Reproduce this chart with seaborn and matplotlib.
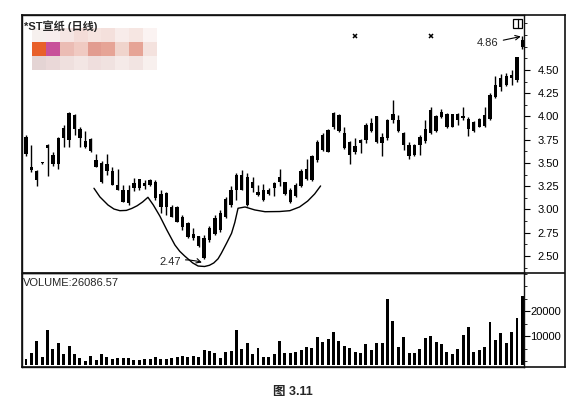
""" Daily candlestick chart with volume panel (cup-and-handle, fig 3.11) """

import matplotlib
matplotlib.use('Agg')
import matplotlib.pyplot as plt
from matplotlib.patches import Rectangle
from matplotlib.lines import Line2D
from matplotlib.ticker import MultipleLocator, FormatStrFormatter
import numpy as np
import pandas as pd
import seaborn as sns

TITLE = '*ST宣纸 (日线)'
CAPTION = '图 3.11'
VOLUME_LABEL = 'VOLUME:26086.57'

OPEN = [3.78, 3.46, 3.41, 3.50, 3.66, 3.59, 3.49, 3.77, 3.75, 4.02,
        3.87, 3.74, 3.76, 3.53, 3.50, 3.41, 3.41, 3.26, 3.21, 3.07,
        3.23, 3.23, 3.29, 3.26, 3.30, 3.17, 3.03, 3.03, 3.03, 2.92,
        2.85, 2.69, 2.71, 2.69, 2.67, 2.74, 2.78, 2.92, 3.05, 3.21,
        3.37, 3.35, 3.23, 3.19, 3.10, 3.17, 3.23, 3.30, 3.30, 3.21,
        3.14, 3.25, 3.33, 3.32, 3.53, 3.64, 3.85, 3.89, 4.02, 3.82,
        3.73, 3.62, 3.71, 3.75, 3.93, 3.73, 3.78, 3.77, 3.96, 3.96,
        3.82, 3.69, 3.59, 3.69, 3.74, 3.82, 4.00, 3.99, 4.03, 3.89,
        3.96, 4.00, 3.97, 3.84, 3.89, 3.90, 3.97, 4.21, 4.32, 4.34,
        4.41, 4.39, 4.75]
CLOSE = [3.60, 3.42, 3.32, 3.51, 3.69, 3.49, 3.77, 3.88, 4.04, 3.86,
         3.77, 3.67, 3.63, 3.46, 3.30, 3.49, 3.26, 3.21, 3.08, 3.21,
         3.28, 3.33, 3.25, 3.32, 3.12, 3.03, 3.18, 2.92, 2.87, 2.81,
         2.70, 2.74, 2.61, 2.48, 2.80, 2.91, 2.96, 3.11, 3.21, 3.37,
         3.21, 3.05, 3.30, 3.16, 3.21, 3.21, 3.28, 3.35, 3.17, 3.08,
         3.26, 3.41, 3.43, 3.57, 3.73, 3.80, 3.62, 4.04, 3.84, 3.66,
         3.59, 3.68, 3.75, 3.91, 3.84, 4.00, 3.71, 3.96, 4.03, 3.84,
         3.69, 3.57, 3.69, 3.78, 3.86, 4.07, 3.84, 4.05, 3.89, 4.03,
         4.03, 3.98, 3.86, 3.94, 3.97, 4.02, 4.23, 4.34, 4.41, 4.43,
         4.45, 4.64, 4.82]
HIGH = [3.80, 3.69, 3.42, 3.51, 3.70, 3.62, 3.78, 3.91, 4.05, 4.03,
        3.89, 3.84, 3.77, 3.60, 3.52, 3.60, 3.46, 3.43, 3.26, 3.26,
        3.34, 3.33, 3.32, 3.33, 3.32, 3.21, 3.19, 3.05, 3.04, 2.94,
        2.86, 2.80, 2.72, 2.73, 2.82, 2.94, 2.99, 3.13, 3.25, 3.39,
        3.42, 3.39, 3.35, 3.26, 3.27, 3.23, 3.30, 3.43, 3.30, 3.23,
        3.28, 3.43, 3.54, 3.59, 3.75, 3.82, 3.86, 4.05, 4.03, 3.89,
        3.74, 3.77, 3.76, 3.93, 3.98, 4.01, 3.82, 3.97, 4.18, 4.02,
        3.83, 3.73, 3.70, 3.80, 3.96, 4.10, 4.02, 4.08, 4.04, 4.03,
        4.04, 4.10, 3.99, 3.95, 3.98, 4.10, 4.25, 4.43, 4.46, 4.47,
        4.50, 4.64, 4.86]
LOW = [3.58, 3.40, 3.25, 3.49, 3.36, 3.47, 3.43, 3.67, 3.67, 3.80,
       3.67, 3.66, 3.62, 3.46, 3.28, 3.37, 3.26, 3.21, 3.08, 3.05,
       3.20, 3.21, 3.22, 3.25, 3.10, 2.96, 2.94, 2.92, 2.86, 2.78,
       2.69, 2.67, 2.60, 2.47, 2.65, 2.73, 2.76, 2.91, 3.03, 3.10,
       3.21, 3.04, 3.19, 3.14, 3.09, 3.16, 3.14, 3.25, 3.16, 3.07,
       3.13, 3.24, 3.32, 3.31, 3.51, 3.63, 3.62, 3.87, 3.83, 3.65,
       3.49, 3.60, 3.61, 3.71, 3.83, 3.72, 3.57, 3.75, 3.93, 3.83,
       3.64, 3.54, 3.58, 3.59, 3.72, 3.81, 3.83, 3.98, 3.88, 3.89,
       3.91, 3.96, 3.79, 3.83, 3.89, 3.89, 3.96, 4.20, 4.27, 4.33,
       4.34, 4.37, 4.73]
VOLUME = [680, 3300, 8000, 1700, 12400, 4800, 7100, 2700, 6000, 2700,
          1100, 200, 2000, 400, 2700, 1500, 700, 1200, 1200, 1200,
          400, 400, 900, 900, 1500, 700, 900, 1200, 1500, 2000,
          1500, 2100, 1500, 4400, 4100, 3100, 1200, 3700, 4000, 12400,
          4900, 7300, 2700, 5300, 1700, 1500, 2700, 8000, 3200, 3100,
          3700, 4400, 5500, 5100, 9700, 7700, 8700, 11700, 8000, 6000,
          5100, 3700, 3300, 6800, 4300, 7300, 7300, 24700, 16000, 5700,
          9700, 3300, 3300, 4900, 9300, 10100, 7600, 6900, 3700, 2900,
          4800, 10400, 13700, 3700, 4400, 5500, 15700, 8400, 11300, 7100,
          11700, 17300, 26087]

PRICE_TICKS = [2.50, 2.75, 3.00, 3.25, 3.50, 3.75, 4.00, 4.25, 4.50]
VOLUME_TICKS = [10000, 20000]
EVENT_DAYS = [61, 75]
HIGH_DAY, HIGH_PRICE = 92, 4.86
LOW_DAY, LOW_PRICE = 33, 2.47

# hand-drawn cup-and-handle outline (day index, price)
CURVE_DAY = [12.6, 13.7, 15.2, 16.3, 17.4, 18.6, 19.6, 20.6, 21.6, 22.6,
             23.6, 24.8, 26.1, 27.6, 28.5, 29.4, 30.9, 31.9, 33.1, 34.0,
             34.8, 35.6, 36.2, 37.2, 38.1, 38.7, 39.3,
             40.6, 42.4, 44.3, 47.0, 48.9, 50.7, 52.2, 53.5, 54.6]
CURVE_PRICE = [3.228, 3.135, 3.048, 3.005, 2.987, 2.990, 3.011, 3.04, 3.08, 3.131,
               3.048, 2.93, 2.78, 2.618, 2.55, 2.50, 2.425, 2.392, 2.387, 2.40,
               2.425, 2.47, 2.529, 2.64, 2.744, 2.86, 3.013,
               3.027, 2.995, 2.976, 2.978, 2.987, 3.027, 3.09, 3.167, 3.253]

# redacted (pixelated) legend block
MOSAIC = [
    ['#f6f0ee', '#f8eeee', '#f6e6e4', '#f4dcd8', '#f6e4e0', '#f4e0dc', '#f8ecea', '#f6e6e2', '#fbf3f2'],
    ['#e8602a', '#c8509a', '#ebbcb4', '#f0cac2', '#e29c90', '#e6a496', '#f0d4cc', '#e6a496', '#f4e2de'],
    ['#e4d4d4', '#ead8d8', '#efe0de', '#f3e6e4', '#efdedd', '#f0e2e0', '#f5eae8', '#f2e4e2', '#f8f0ee'],
]

W, H = 573, 408


def px_rect(left, top, right, bottom):
    """ Pixel box -> figure fraction rect """
    return [left / W, 1 - bottom / H, (right - left) / W, (bottom - top) / H]


def draw():
    sns.set_theme(style='white')
    plt.rcParams['font.family'] = ['Liberation Sans', 'Noto Sans CJK SC', 'DejaVu Sans']

    df = pd.DataFrame({'open': OPEN, 'close': CLOSE, 'high': HIGH, 'low': LOW,
                       'volume': VOLUME})
    df['day'] = np.arange(len(df))
    df['top'] = df[['open', 'close']].max(axis=1)
    df['bot'] = df[['open', 'close']].min(axis=1)
    df['body'] = (df['top'] - df['bot']).clip(lower=0.012)

    fig = plt.figure(figsize=(W / 100, H / 100), dpi=100)
    fig.set_facecolor('white')

    frame = fig.add_axes(px_rect(22, 15, 565, 367), zorder=0)
    frame.set_xticks([])
    frame.set_yticks([])
    for sp in frame.spines.values():
        sp.set_linewidth(1.2)
        sp.set_color('#111111')
    frame.axhline((367 - 273) / 352, color='#111111', lw=1.2)

    ax = fig.add_axes(px_rect(22, 15, 524, 273), zorder=1)
    axv = fig.add_axes(px_rect(22, 273, 524, 367), zorder=1, sharex=ax)
    for a in (ax, axv):
        a.patch.set_alpha(0)
        for sp in a.spines.values():
            sp.set_linewidth(1.0)
            sp.set_color('#111111')

    # candles
    ax.vlines(df['day'], df['low'], df['high'], color='black', lw=1.0)
    ax.bar(df['day'], df['body'], bottom=df['bot'], width=0.62, color='black', lw=0)

    sns.lineplot(x=CURVE_DAY, y=CURVE_PRICE, sort=False, color='black', lw=1.0,
                 ax=ax, estimator=None)
    ax.plot(EVENT_DAYS, [4.87] * len(EVENT_DAYS), 'x', color='black', ms=3, mew=1.1)

    ax.annotate(f'{HIGH_PRICE:.2f}', xy=(HIGH_DAY - 0.3, HIGH_PRICE),
                xytext=(85.6, 4.785), ha='center', va='center', fontsize=8,
                arrowprops=dict(arrowstyle='->', lw=0.8, color='black',
                                shrinkA=1, shrinkB=0))
    ax.annotate(f'{LOW_PRICE:.2f}', xy=(LOW_DAY - 0.4, 2.43),
                xytext=(26.7, 2.435), ha='center', va='center', fontsize=8,
                arrowprops=dict(arrowstyle='->', lw=0.8, color='black',
                                shrinkA=1, shrinkB=0,
                                connectionstyle='arc3,rad=-0.15'))

    ax.set_xlim(-0.74, 92.3)
    ax.set_ylim(2.317, 5.091)
    ax.yaxis.tick_right()
    ax.set_yticks(PRICE_TICKS)
    ax.yaxis.set_major_formatter(FormatStrFormatter('%.2f'))
    ax.yaxis.set_minor_locator(MultipleLocator(0.125))
    ax.tick_params(axis='y', which='major', direction='out', length=4, width=0.8,
                   pad=6, labelsize=8, colors='black', right=True)
    ax.tick_params(axis='y', which='minor', direction='out', length=2, width=0.7,
                   right=True)
    ax.tick_params(axis='x', bottom=False, labelbottom=False)

    # volume
    floor = -1600
    axv.bar(df['day'], df['volume'] - floor, bottom=floor, width=0.55,
            color='black', lw=0)
    axv.set_ylim(-2400, 35200)
    axv.yaxis.tick_right()
    axv.set_yticks(VOLUME_TICKS)
    axv.set_yticklabels([str(v) for v in VOLUME_TICKS])
    axv.yaxis.set_minor_locator(MultipleLocator(5000))
    axv.tick_params(axis='y', which='major', direction='out', length=4, width=0.8,
                    pad=0.5, labelsize=8, colors='black', right=True)
    axv.tick_params(axis='y', which='minor', direction='out', length=2, width=0.7,
                    right=True)
    axv.tick_params(axis='x', bottom=False, labelbottom=False)
    axv.set_xlabel('')
    axv.set_ylabel('')
    ax.set_xlabel('')
    ax.set_ylabel('')

    # header pieces
    fig.text(24 / W, 1 - 26 / H, TITLE, va='center', ha='left', fontsize=8,
             fontweight='bold')
    fig.text(23 / W, 1 - 283 / H, VOLUME_LABEL, va='center', ha='left', fontsize=8)
    fig.text(293 / W, 1 - 392 / H, CAPTION, va='center', ha='center', fontsize=9,
             fontweight='bold')

    mosaic = fig.add_axes(px_rect(32, 28, 157, 70), zorder=2)
    rgb = np.array([[matplotlib.colors.to_rgb(c) for c in row] for row in MOSAIC])
    mosaic.imshow(rgb, aspect='auto', interpolation='nearest')
    mosaic.axis('off')

    # little window icon at top right
    fig.add_artist(Rectangle((512.7 / W, 1 - 28.3 / H), 9 / W, 9 / H,
                             transform=fig.transFigure, fill=False, lw=0.9,
                             edgecolor='black'))
    fig.add_artist(Line2D([518.3 / W, 518.3 / W], [1 - 28.3 / H, 1 - 19.3 / H],
                          transform=fig.transFigure, lw=0.9, color='black'))

    fig.savefig('out.png', dpi=100)


if __name__ == '__main__':
    draw()
